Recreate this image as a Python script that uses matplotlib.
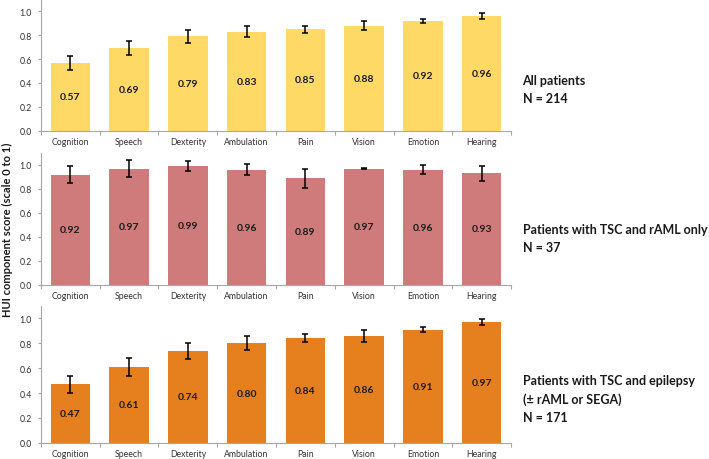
import matplotlib.pyplot as plt
import numpy as np

categories = ["Cognition", "Speech", "Dexterity", "Ambulation", "Pain", "Vision", "Emotion", "Hearing"]

all_values = [0.57, 0.69, 0.79, 0.83, 0.85, 0.88, 0.92, 0.96]
all_err = [0.058, 0.058, 0.052, 0.048, 0.030, 0.037, 0.020, 0.022]

raml_values = [0.92, 0.97, 0.99, 0.96, 0.89, 0.97, 0.96, 0.93]
raml_err = [0.073, 0.068, 0.040, 0.046, 0.080, 0.008, 0.039, 0.063]

epi_values = [0.47, 0.61, 0.74, 0.80, 0.84, 0.86, 0.91, 0.97]
epi_err = [0.067, 0.070, 0.063, 0.058, 0.032, 0.048, 0.020, 0.024]

group_labels = [
    "All patients\nN = 214",
    "Patients with TSC and rAML only\nN = 37",
    "Patients with TSC and epilepsy\n(\u00b1 rAML or SEGA)\nN = 171",
]

plt.rcParams['font.family'] = ['Lato', 'DejaVu Sans']

fig = plt.figure(figsize=(7.09, 4.60), dpi=100)

# axes boxes in figure fractions: left, bottom, width, height
boxes = [
    [0.0578, 0.7137, 0.663, 0.2854],
    [0.0578, 0.3790, 0.663, 0.2863],
    [0.0578, 0.0354, 0.663, 0.2972],
]
colors = ["#FFD966", "#CF7B7B", "#E6801F"]
series = [(all_values, all_err), (raml_values, raml_err), (epi_values, epi_err)]
label_y = [0.804, 0.481, 0.131]

x = np.arange(len(categories))
for box, color, (vals, errs), text, ty in zip(boxes, colors, series, group_labels, label_y):
    ax = fig.add_axes(box)
    ax.bar(x, vals, width=0.67, color=color, zorder=2)
    ax.errorbar(x, vals, yerr=errs, fmt="none", ecolor="black", elinewidth=1.1,
                capsize=2.2, capthick=1.1, zorder=3)
    for i, v in enumerate(vals):
        ax.text(i, v / 2, f"{v:.2f}", ha="center", va="center", fontsize=7.5,
                fontweight="bold", color="#1a1a1a", zorder=4)

    ax.set_xlim(-0.5, len(categories) - 0.5)
    ax.set_ylim(0, 1.1)
    ax.set_yticks(np.arange(0, 1.01, 0.2))
    ax.set_yticklabels([f"{t:.1f}" for t in np.arange(0, 1.01, 0.2)])
    ax.set_xticks(x)
    ax.set_xticklabels(categories)
    ax.set_xticks(np.arange(-0.5, len(categories), 1), minor=True)
    ax.tick_params(axis="x", which="major", length=0, labelsize=6.3, pad=4.5, colors="#333333")
    ax.tick_params(axis="x", which="minor", length=3, color="#A6A6A6", width=0.8)
    ax.tick_params(axis="y", length=2.5, color="#A6A6A6", width=0.8, labelsize=6.3,
                   labelcolor="#333333", pad=4)
    for s in ["top", "right"]:
        ax.spines[s].set_visible(False)
    for s in ["left", "bottom"]:
        ax.spines[s].set_color("#A6A6A6")
        ax.spines[s].set_linewidth(0.8)

    fig.text(0.737, ty, text, ha="left", va="center", fontsize=9, fontweight="bold",
             linespacing=1.6, color="#1a1a1a")

fig.text(0.011, 0.50, "HUI component score (scale 0 to 1)", rotation=90, ha="center",
         va="center", fontsize=8, fontweight="bold", color="#1a1a1a")

fig.savefig("out.png", dpi=100)
